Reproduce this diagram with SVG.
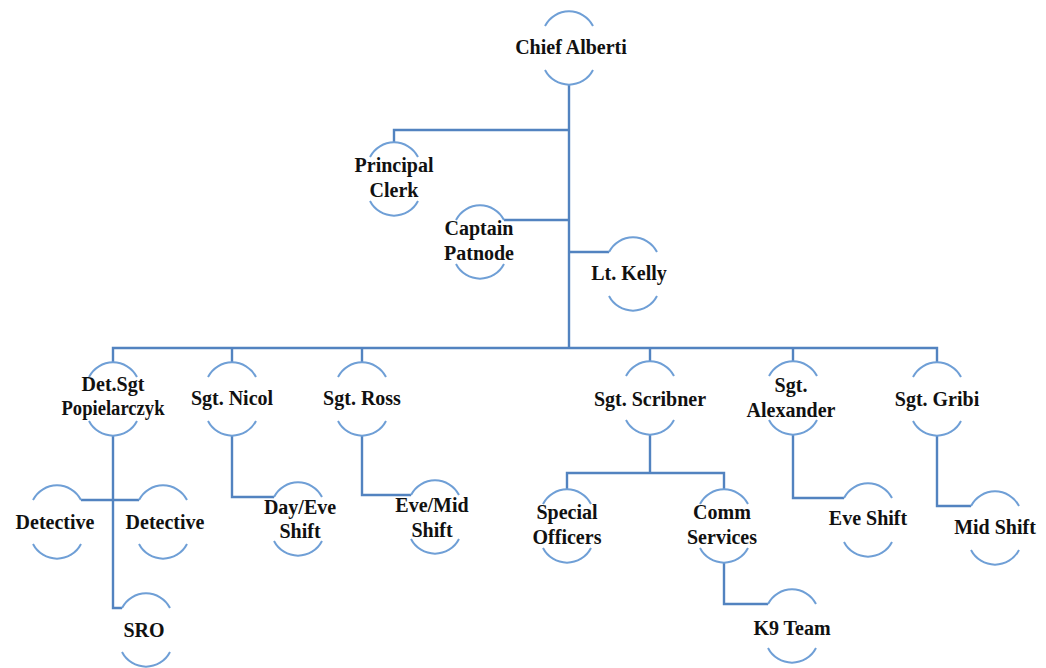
<svg xmlns="http://www.w3.org/2000/svg" xmlns:xlink="http://www.w3.org/1999/xlink" width="1046" height="668" viewBox="0 0 1046 668">
<style>
.c{fill:none;stroke:#5283c0;stroke-width:2.4;stroke-linejoin:miter}
.a{fill:none;stroke:#6f9fd6;stroke-width:2}
text{font-family:"Liberation Serif","Times New Roman",serif;font-weight:bold;font-size:20px;fill:#111;text-anchor:middle;dominant-baseline:central}
</style>
<defs>
<path id="arcs" class="a" d="M-24,-22 A27,27 0 0 1 24,-22 M-24,22 A27,27 0 0 0 24,22"/>
</defs>
<rect width="1046" height="668" fill="#fff"/>
<g id="connectors">
<path class="c" d="M569,85 V348"/>
<path class="c" d="M113,362 V348 H937 V362"/>
<path class="c" d="M232,348 V362 M362,348 V362 M650,348 V362 M793,348 V362"/>
<path class="c" d="M394,143 V130 H569"/>
<path class="c" d="M504,220 H569"/>
<path class="c" d="M569,252 H609"/>
<path class="c" d="M113,435 V608 H122"/>
<path class="c" d="M81,500 H139"/>
<path class="c" d="M232,436 V497 H274"/>
<path class="c" d="M362,436 V495 H411"/>
<path class="c" d="M650,435 V473 M567,490 V473 H724 V490"/>
<path class="c" d="M724,563 V604 H768"/>
<path class="c" d="M793,435 V498 H844"/>
<path class="c" d="M937,436 V506 H971"/>
</g>
<g id="chief"><use xlink:href="#arcs" x="569" y="48"/><text x="571" y="47">Chief Alberti</text></g>
<g id="clerk"><use xlink:href="#arcs" x="394" y="179"/><text x="394" y="165">Principal</text><text x="394" y="190">Clerk</text></g>
<g id="captain"><use xlink:href="#arcs" x="480" y="242"/><text x="479" y="228">Captain</text><text x="479" y="253">Patnode</text></g>
<g id="kelly"><use xlink:href="#arcs" x="633" y="274"/><text x="629" y="273">Lt. Kelly</text></g>
<g id="popielarczyk"><use xlink:href="#arcs" x="113" y="399"/><text x="113" y="384">Det.Sgt</text><text x="113" y="408" textLength="103" lengthAdjust="spacingAndGlyphs">Popielarczyk</text></g>
<g id="nicol"><use xlink:href="#arcs" x="232" y="399"/><text x="232" y="398">Sgt. Nicol</text></g>
<g id="ross"><use xlink:href="#arcs" x="362" y="399"/><text x="362" y="398">Sgt. Ross</text></g>
<g id="scribner"><use xlink:href="#arcs" x="650" y="398"/><text x="650" y="399">Sgt. Scribner</text></g>
<g id="alexander"><use xlink:href="#arcs" x="793" y="398"/><text x="791" y="385">Sgt.</text><text x="791" y="410">Alexander</text></g>
<g id="gribi"><use xlink:href="#arcs" x="937" y="399"/><text x="937" y="399">Sgt. Gribi</text></g>
<g id="detective1"><use xlink:href="#arcs" x="57" y="522"/><text x="55" y="522">Detective</text></g>
<g id="detective2"><use xlink:href="#arcs" x="163" y="522"/><text x="165" y="522">Detective</text></g>
<g id="sro"><use xlink:href="#arcs" x="146" y="630"/><text x="144" y="630">SRO</text></g>
<g id="dayeve"><use xlink:href="#arcs" x="298" y="519"/><text x="300" y="507">Day/Eve</text><text x="300" y="531">Shift</text></g>
<g id="evemid"><use xlink:href="#arcs" x="435" y="517"/><text x="432" y="505">Eve/Mid</text><text x="432" y="530">Shift</text></g>
<g id="special"><use xlink:href="#arcs" x="567" y="526"/><text x="567" y="512">Special</text><text x="567" y="537">Officers</text></g>
<g id="comm"><use xlink:href="#arcs" x="724" y="526"/><text x="722" y="512">Comm</text><text x="722" y="537">Services</text></g>
<g id="k9"><use xlink:href="#arcs" x="792" y="626"/><text x="792" y="628">K9 Team</text></g>
<g id="eveshift"><use xlink:href="#arcs" x="868" y="520"/><text x="868" y="518">Eve Shift</text></g>
<g id="midshift"><use xlink:href="#arcs" x="995" y="528"/><text x="995" y="527">Mid Shift</text></g>
</svg>
